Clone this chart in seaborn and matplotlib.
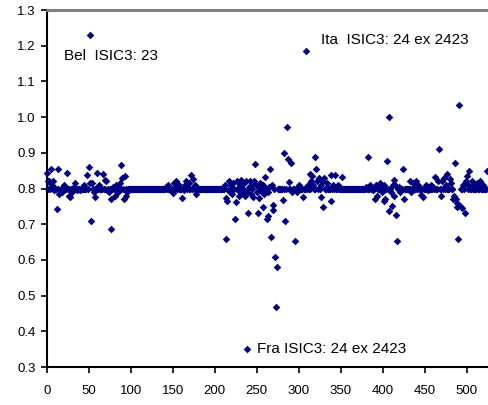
import numpy as np
import pandas as pd
import matplotlib
matplotlib.use("Agg")
import matplotlib.pyplot as plt
from matplotlib.lines import Line2D
import seaborn as sns

# observations are numbered 0..525; most sit exactly on the 0.8 level
n_obs = 526
base_level = 0.8

# points that leave the 0.8 level
dev_x = [0, 1, 3, 5, 6, 7, 9, 12, 14, 15, 16, 18, 20, 22, 24, 26, 28, 30, 32, 34, 36, 40, 44,
         48, 50, 51, 52, 53, 54, 56, 58, 60, 62, 67, 69, 71, 72, 74, 76, 77, 79, 81, 83, 85,
         87, 88, 90, 92, 93, 94, 96,
         142, 145, 148, 150, 152, 154, 156, 158, 161, 163, 165, 166, 168, 170, 172, 174, 176, 178,
         212, 213, 214, 215, 216, 217, 218, 219, 221, 222, 224, 225, 227, 228, 229, 230, 231, 232,
         235, 236, 237, 238, 239, 240, 241, 242, 243, 244, 246, 247, 248, 249, 250, 251, 252, 253,
         254, 256, 257, 258, 259, 260, 262, 263, 264, 265, 266, 267, 268, 269, 270, 272, 273, 274,
         281, 283, 284, 286, 287, 288, 291, 292, 296, 298, 300, 302, 305, 309, 311, 313, 315, 316,
         317, 319, 321, 322, 324, 326, 327, 328, 329, 330, 334, 338, 339, 341, 343, 345, 347, 351,
         380, 383, 385, 389, 391, 392, 393, 397, 399, 401, 402, 403, 405, 407, 408, 410, 411, 412,
         413, 414, 415, 416, 417, 419, 421, 424, 425,
         433, 434, 436, 440, 442, 446, 448, 452, 454, 458, 460, 462, 466, 467, 470, 471, 473, 475,
         476, 480, 481, 484, 485, 486, 487, 488, 489, 490, 491, 492, 495, 496, 498, 499, 500, 502,
         503, 506, 508, 512, 514, 516, 520, 524]
dev_y = [0.844, 0.82, 0.821, 0.854, 0.81, 0.821, 0.795, 0.743, 0.855, 0.785, 0.795, 0.79, 0.81,
         0.805, 0.844, 0.78, 0.776, 0.79, 0.805, 0.816, 0.795, 0.795, 0.81,
         0.838, 0.861, 0.816, 1.23, 0.709, 0.816, 0.79, 0.777, 0.844, 0.81, 0.84, 0.825, 0.82,
         0.795, 0.79, 0.687, 0.77, 0.805, 0.78, 0.81, 0.79,
         0.816, 0.866, 0.83, 0.772, 0.835, 0.78, 0.79,
         0.805, 0.81, 0.795, 0.788, 0.815, 0.821, 0.805, 0.81, 0.774, 0.796, 0.81, 0.82, 0.805,
         0.815, 0.838, 0.826, 0.81, 0.785,
         0.81, 0.774, 0.659, 0.765, 0.795, 0.822, 0.79, 0.81, 0.785, 0.815, 0.715, 0.763, 0.82,
         0.795, 0.78, 0.81, 0.825, 0.79,
         0.815, 0.78, 0.82, 0.351, 0.79, 0.732, 0.805, 0.82, 0.785, 0.81, 0.775, 0.82, 0.868,
         0.81, 0.79, 0.805, 0.732, 0.774,
         0.815, 0.79, 0.749, 0.81, 0.785, 0.833, 0.715, 0.79, 0.723, 0.805, 0.855, 0.665, 0.81,
         0.754, 0.74, 0.609, 0.469, 0.581,
         0.768, 0.9, 0.71, 0.973, 0.883, 0.819, 0.872, 0.79, 0.654, 0.79, 0.81, 0.805, 0.777,
         1.186, 0.81, 0.842, 0.82, 0.835,
         0.81, 0.889, 0.856, 0.82, 0.83, 0.81, 0.775, 0.82, 0.749, 0.83, 0.815, 0.766, 0.838,
         0.81, 0.838, 0.805, 0.81, 0.833,
         0.805, 0.889, 0.81, 0.795, 0.772, 0.81, 0.779, 0.815, 0.79, 0.81, 0.765, 0.77, 0.877,
         1.001, 0.738, 0.79, 0.75, 0.81,
         0.78, 0.824, 0.81, 0.726, 0.654, 0.805, 0.79, 0.855, 0.77,
         0.82, 0.79, 0.815, 0.82, 0.81, 0.782, 0.777, 0.81, 0.795, 0.81, 0.805, 0.833, 0.82,
         0.911, 0.78, 0.82, 0.83, 0.81,
         0.842, 0.828, 0.815, 0.772, 0.78, 0.872, 0.77, 0.747, 0.76, 0.658, 1.035, 0.75, 0.746,
         0.81, 0.732, 0.82, 0.835, 0.81,
         0.85, 0.82, 0.81, 0.815, 0.805, 0.82, 0.81, 0.85]

y_ticks = [0.3, 0.4, 0.5, 0.6, 0.7, 0.8, 0.9, 1.0, 1.1, 1.2, 1.3]
x_ticks = [0, 50, 100, 150, 200, 250, 300, 350, 400, 450, 500]

labels = ["Bel  ISIC3: 23", "Ita  ISIC3: 24 ex 2423", "Fra ISIC3: 24 ex 2423"]
label_pos = [(20.5, 1.172), (327, 1.216), (250.5, 0.351)]

values = np.full(n_obs, base_level)
values[dev_x] = dev_y
df = pd.DataFrame({"obs": np.arange(n_obs), "value": values})

sns.set_style("ticks")
plt.rcParams["font.family"] = ["Liberation Sans", "DejaVu Sans"]

fig = plt.figure(figsize=(4.88, 4.05), dpi=100)
ax = fig.add_axes([0.0957, 0.0938, 0.9043, 0.8815])

sns.scatterplot(data=df, x="obs", y="value", ax=ax, marker="D", s=15,
                color="#000080", linewidth=0, clip_on=False, zorder=3)

ax.set_xlim(0, 525.4)
ax.set_ylim(0.3, 1.3)
ax.set_xticks(x_ticks)
ax.set_yticks(y_ticks)
ax.set_yticklabels([f"{v:.1f}" for v in y_ticks])
ax.set_xlabel("")
ax.set_ylabel("")
ax.tick_params(direction="out", length=4, width=1.2, colors="black", labelsize=9.5)
ax.tick_params(axis="x", pad=9)
ax.tick_params(axis="y", pad=4)

for side in ["left", "bottom"]:
    ax.spines[side].set_color("black")
    ax.spines[side].set_linewidth(1.5)
ax.spines["top"].set_visible(False)
ax.spines["right"].set_visible(False)

# grey frame line along the top of the plot area, drawn in figure space
top = 0.0938 + 0.8815
fig.add_artist(Line2D([0.0957, 1.0], [top, top], transform=fig.transFigure,
                      color="#808080", linewidth=2.2))

for txt, (tx, ty) in zip(labels, label_pos):
    ax.text(tx, ty, txt, fontsize=11, va="center", ha="left", color="black")

fig.savefig("out.png", dpi=100)
